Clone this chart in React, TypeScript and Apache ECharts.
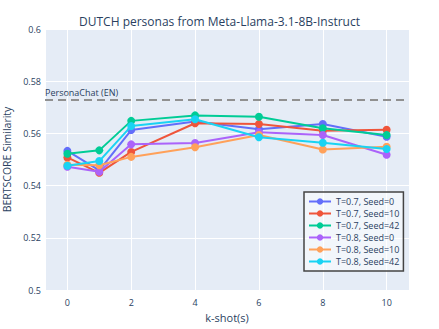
import React, { useEffect, useRef } from "react";
import * as echarts from "echarts";

const kShots = [0, 1, 2, 4, 6, 8, 10];
const seriesNames = [
  "T=0.7, Seed=0",
  "T=0.7, Seed=10",
  "T=0.7, Seed=42",
  "T=0.8, Seed=0",
  "T=0.8, Seed=10",
  "T=0.8, Seed=42",
];
const t07s0 = [0.5533, 0.5458, 0.5613, 0.5646, 0.5616, 0.5636, 0.5587];
const t07s10 = [0.5508, 0.5449, 0.5529, 0.5639, 0.5636, 0.561, 0.5614];
const t07s42 = [0.5522, 0.5535, 0.5648, 0.5669, 0.5664, 0.562, 0.5594];
const t08s0 = [0.5472, 0.5453, 0.5558, 0.5563, 0.5604, 0.5594, 0.5518];
const t08s10 = [0.548, 0.5478, 0.551, 0.5547, 0.5594, 0.5538, 0.5549];
const t08s42 = [0.5476, 0.5494, 0.5628, 0.5654, 0.5585, 0.5564, 0.554];
const seriesValues = [t07s0, t07s10, t07s42, t08s0, t08s10, t08s42];
const colors = ["#636efa", "#EF553B", "#00cc96", "#ab63fa", "#FFA15A", "#19d3f3"];
const baselineValue = 0.5728;
const baselineLabel = "PersonaChat (EN)";
const titleText = "DUTCH personas from Meta-Llama-3.1-8B-Instruct";
const xName = "k-shot(s)";
const yName = "BERTSCORE Similarity";

const FONT = '"Open Sans", verdana, arial, sans-serif';
const TXT = "#2a3f5f";

export default function App() {
  const ref = useRef<HTMLDivElement>(null);
  useEffect(() => {
    if (!ref.current) return;
    const chart = echarts.init(ref.current, null, { renderer: "svg" });
    const series: any[] = seriesNames.map((name, i) => ({
      name,
      type: "line",
      data: kShots.map((k, j) => [k, seriesValues[i][j]]),
      symbol: "circle",
      symbolSize: 8,
      lineStyle: { width: 2, color: colors[i] },
      itemStyle: { color: colors[i] },
      z: 3 + i,
    }));
    series[0].markLine = {
      silent: true,
      symbol: "none",
      precision: 4,
      lineStyle: { type: [8, 5], color: "#909090", width: 2 },
      label: {
        show: true,
        position: "insideStartTop",
        formatter: baselineLabel,
        color: TXT,
        fontSize: 9,
        fontFamily: FONT,
        distance: [0, 3],
      },
      data: [{ yAxis: baselineValue }],
    };
    chart.setOption({
      animation: false,
      textStyle: { fontFamily: FONT },
      title: {
        text: titleText,
        left: "center",
        top: 10,
        textStyle: { fontSize: 12, fontWeight: "normal", color: TXT, fontFamily: FONT },
      },
      grid: {
        left: 45,
        right: 30,
        top: 29,
        bottom: 39,
        show: true,
        backgroundColor: "#E5ECF6",
        borderWidth: 0,
        containLabel: false,
        outerBoundsMode: "none",
      },
      xAxis: {
        type: "value",
        min: -0.7,
        max: 10.7,
        splitNumber: 6,
        name: xName,
        nameLocation: "middle",
        nameGap: 20,
        nameTextStyle: { fontSize: 11, color: TXT, fontFamily: FONT },
        axisLine: { show: false },
        axisTick: { show: false },
        axisLabel: { showMinLabel: false, showMaxLabel: false, fontSize: 9, color: TXT, margin: 8 },
        splitLine: { show: true, lineStyle: { color: "#ffffff", width: 1 } },
      },
      yAxis: {
        type: "value",
        min: 0.5,
        max: 0.6,
        interval: 0.02,
        name: yName,
        nameLocation: "middle",
        nameGap: 31,
        nameTextStyle: { fontSize: 10.5, color: TXT, fontFamily: FONT },
        axisLine: { show: false },
        axisTick: { show: false },
        axisLabel: { fontSize: 9, color: TXT, margin: 4 },
        splitLine: { show: true, lineStyle: { color: "#ffffff", width: 1 } },
      },
      legend: {
        orient: "vertical",
        left: 304,
        top: 192,
        itemWidth: 22,
        itemHeight: 8,
        itemGap: 3,
        padding: [5, 4, 5, 4],
        backgroundColor: "rgba(255,255,255,0.5)",
        borderColor: "#444444",
        borderWidth: 1.5,
        borderRadius: 0,
        textStyle: { fontSize: 9, color: TXT, fontFamily: FONT },
        data: seriesNames,
      },
      series,
    });
    return () => chart.dispose();
  }, []);
  return (
    <div
      ref={ref}
      style={{ position: "absolute", left: 0, top: 0, width: 439, height: 329 }}
    />
  );
}
